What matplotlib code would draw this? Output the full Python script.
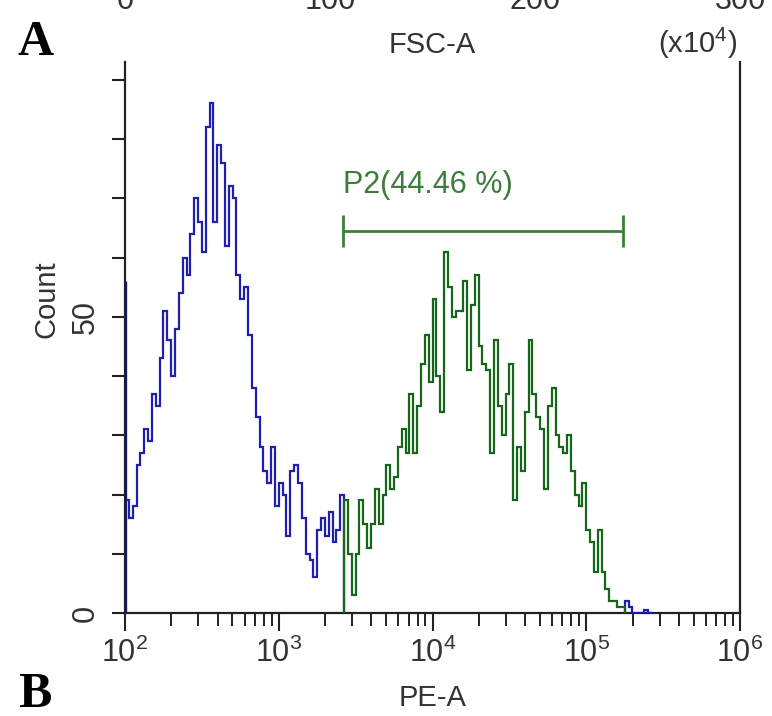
import numpy as np
import matplotlib
matplotlib.use("Agg")
import matplotlib.pyplot as plt
from matplotlib.ticker import FixedLocator, LogLocator, NullFormatter

plt.rcParams['font.family'] = ['Liberation Sans', 'DejaVu Sans']
plt.rcParams['mathtext.fontset'] = 'custom'
plt.rcParams['mathtext.rm'] = 'Liberation Sans'
plt.rcParams['mathtext.it'] = 'Liberation Sans:italic'

# histogram: PE-A channels, log bins of 1/40 decade starting at 10^2
log_lo = 2.0
log_step = 0.025
counts = [19, 16, 18, 25, 27, 31, 29, 37, 35, 43,
          51, 46, 40, 48, 54, 60, 57, 64, 70, 66,
          61, 82, 86, 66, 79, 76, 62, 72, 70, 57,
          53, 55, 47, 38, 33, 28, 24, 22, 28, 18,
          22, 20, 13, 24, 25, 22, 16, 10, 9, 6,
          14, 16, 13, 17, 12, 14, 20, 19, 10, 3,
          10, 19, 15, 11, 15, 21, 15, 20, 25, 21,
          23, 28, 31, 27, 37, 27, 35, 42, 47, 39,
          53, 40, 34, 61, 55, 50, 51, 51, 56, 41,
          52, 57, 45, 42, 41, 27, 46, 35, 30, 37,
          42, 19, 28, 24, 34, 46, 37, 33, 31, 21,
          35, 38, 30, 28, 27, 30, 24, 20, 18, 22,
          14, 12, 7, 14, 7, 4, 2, 2, 1, 1,
          2, 1, 0, 0, 0, 0.5, 0]
pileup_count = 56   # events piled up on the lower axis limit

# gate P2
gate_name = "P2"
gate_lo = 2630
gate_hi = 1.73e5
gate_pct = 44.46
gate_y = 64.5

top_ticks = [0, 100, 200, 300]   # FSC-A axis of panel A (x10^4)

blue = '#1e1eb0'
green = '#16661a'
gate_col = '#3b7d3b'
txt = '#333333'

counts = np.array(counts, dtype=float)
edges = 10 ** (log_lo + log_step * np.arange(len(counts) + 1))
centers = np.sqrt(edges[:-1] * edges[1:])
inside = (centers > gate_lo) & (centers < gate_hi)
i0 = np.argmax(inside)
i1 = len(inside) - np.argmax(inside[::-1])

fig = plt.figure(figsize=(7.72, 7.16), dpi=100)
ax = fig.add_axes([125 / 772, 103 / 716, 615 / 772, 551 / 716])

ax.stairs(counts[:i0], edges[:i0 + 1], baseline=0, color=blue, lw=1.6, zorder=3)
ax.stairs(counts[i1:], edges[i1:], baseline=0, color=blue, lw=1.6, zorder=3)
ax.stairs(counts[i0:i1], edges[i0:i1 + 1], baseline=0, color=green, lw=1.6, zorder=4)
ax.vlines(edges[0], 0, pileup_count, color='#14147a', lw=2.4, zorder=5)

# gate marker
ax.hlines(gate_y, gate_lo, gate_hi, color=gate_col, lw=2)
ax.vlines([gate_lo, gate_hi], gate_y - 2.7, gate_y + 2.7, color=gate_col, lw=2)
ax.text(gate_lo, gate_y + 5.2, f"{gate_name}({gate_pct:.2f} %)", color=gate_col,
        fontsize=22, ha='left', va='bottom')

ax.set_xscale('log')
ax.set_xlim(1e2, 1e6)
ax.set_ylim(0, 93)

ax.spines['top'].set_visible(False)
for s in ['left', 'right', 'bottom']:
    ax.spines[s].set_linewidth(1.6)
    ax.spines[s].set_color('#222222')

ax.xaxis.set_major_locator(LogLocator(base=10, numticks=10))
ax.xaxis.set_minor_locator(LogLocator(base=10, subs=np.arange(2, 10), numticks=20))
ax.xaxis.set_minor_formatter(NullFormatter())
ax.tick_params(axis='x', which='major', length=13, width=1.5, pad=5,
               labelsize=22, labelcolor=txt, color='#222222')
ax.tick_params(axis='x', which='minor', length=9.5, width=1.4, color='#222222')

ax.yaxis.set_major_locator(FixedLocator([0, 50]))
ax.yaxis.set_minor_locator(FixedLocator(np.arange(10, 100, 10)))
ax.tick_params(axis='y', which='both', length=9.5, width=1.5, color='#222222')
ax.tick_params(axis='y', which='major', labelsize=22, labelcolor=txt, pad=8,
               labelrotation=90)
for lab in ax.get_yticklabels():
    lab.set_va('center')

ax.set_xlabel("PE-A", fontsize=21, color=txt)
ax.xaxis.set_label_coords(0.5, -0.128)
ax.set_ylabel("Count", fontsize=21, color=txt)
ax.yaxis.set_label_coords(-0.105, 0.57)

# remnant of panel A's x axis, cut by the top of the figure
ax_top = fig.add_axes([125 / 772, 1 + 14 / 716, 615 / 772, 0.05])
ax_top.set_xlim(top_ticks[0], top_ticks[-1])
ax_top.set_xticks(top_ticks)
ax_top.set_yticks([])
for s in ax_top.spines.values():
    s.set_visible(False)
ax_top.patch.set_visible(False)
ax_top.tick_params(axis='x', length=0, pad=0, labelsize=22, labelcolor=txt)

fig.text(432 / 772, 1 - 53 / 716, "FSC-A", fontsize=21, color=txt,
         ha='center', va='baseline')
fig.text(737 / 772, 1 - 53 / 716, r"(x10$^{4}$)", fontsize=21, color=txt,
         ha='right', va='baseline')

fig.text(18 / 772, 1 - 55 / 716, "A", fontsize=36, fontweight='bold',
         family='Liberation Serif', ha='left', va='baseline')
fig.text(18 / 772, 1 - 707 / 716, "B", fontsize=36, fontweight='bold',
         family='Liberation Serif', ha='left', va='baseline')

fig.savefig("out.png", dpi=100, facecolor='white')
